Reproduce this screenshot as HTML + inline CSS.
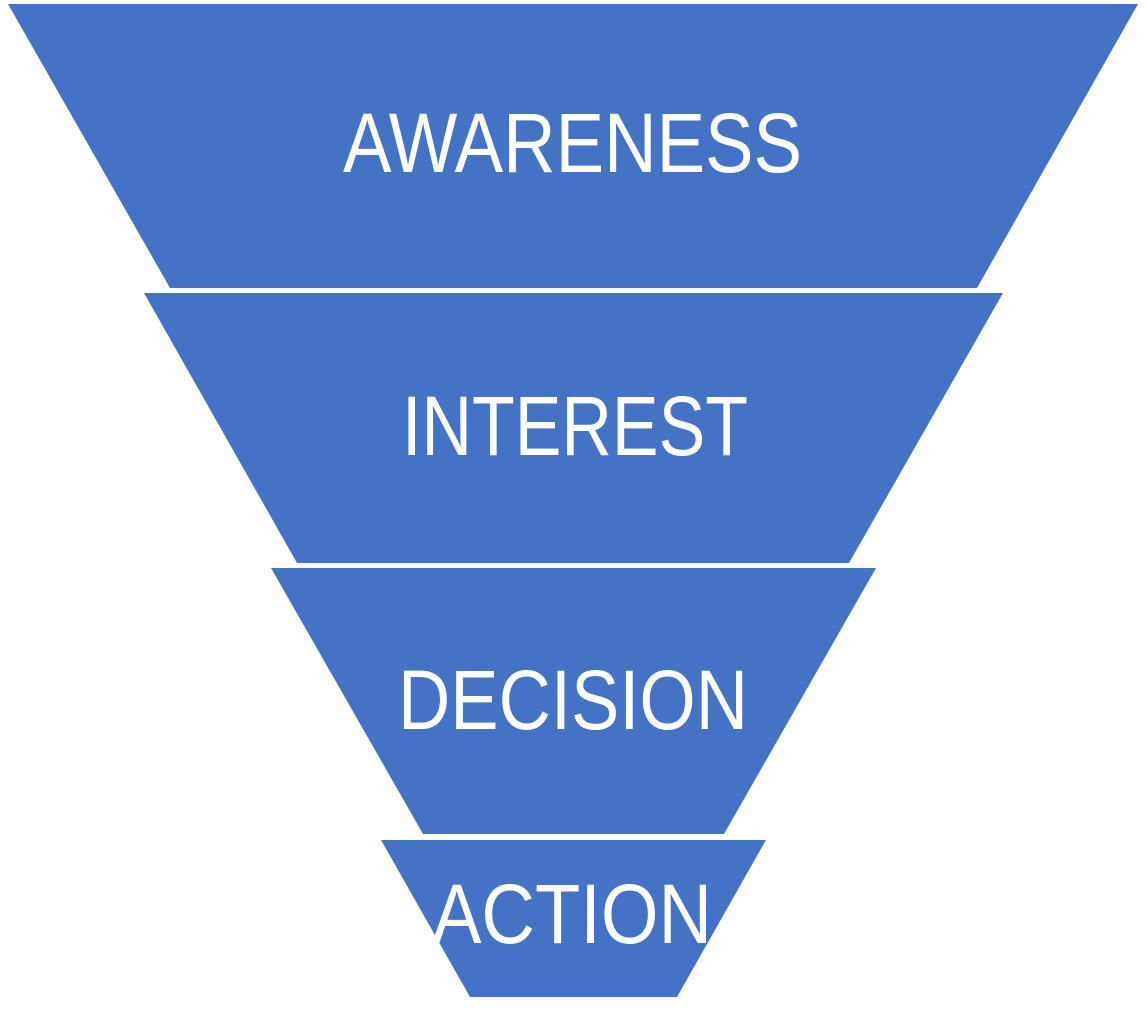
<!DOCTYPE html>
<html><head><meta charset="utf-8"><style>
html,body{margin:0;padding:0;background:#fff;}
svg{display:block;}
text{font-family:"Liberation Sans",sans-serif;fill:#fff;font-size:84px;}
</style></head><body>
<svg width="1147" height="1026" viewBox="0 0 1147 1026" xmlns="http://www.w3.org/2000/svg">
<polygon points="8,4 1138,4 977,288 170,288" fill="#4472C4"/>
<polygon points="144,293 1003,293 849,563 297,563" fill="#4472C4"/>
<polygon points="271,568 876,568 724,834 423,834" fill="#4472C4"/>
<polygon points="381,840 766,840 677,997 470,997" fill="#4472C4"/>
<text x="343" y="172" textLength="459" lengthAdjust="spacingAndGlyphs">AWARENESS</text>
<text x="402" y="455" textLength="346" lengthAdjust="spacingAndGlyphs">INTEREST</text>
<text x="398" y="729" textLength="350" lengthAdjust="spacingAndGlyphs">DECISION</text>
<text x="432" y="943" textLength="280" lengthAdjust="spacingAndGlyphs">ACTION</text>
</svg>
</body></html>
